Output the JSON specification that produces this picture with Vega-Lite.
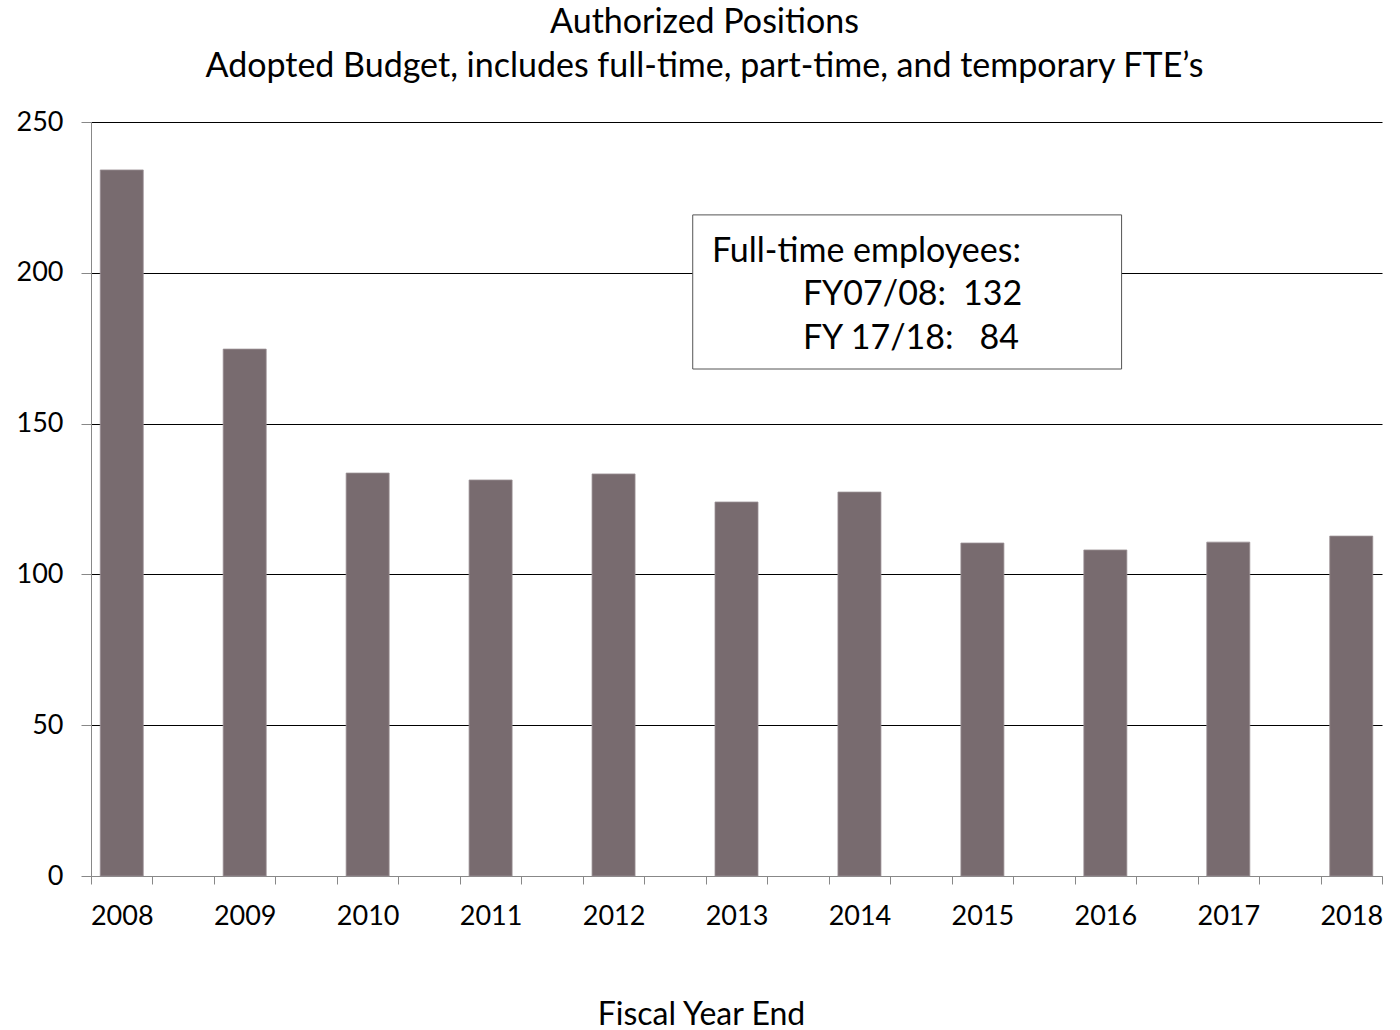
{
  "$schema": "https://vega.github.io/schema/vega-lite/v6.json",
  "width": 1291,
  "height": 754,
  "autosize": {"type": "none"},
  "padding": {"left": 91, "top": 122, "right": 18, "bottom": 154},
  "background": "white",
  "config": {
    "font": "Lato",
    "view": {"stroke": null},
    "axis": {"labelFont": "Lato", "titleFont": "Lato", "labelColor": "black", "titleColor": "black"}
  },
  "title": {
    "text": ["Authorized Positions", "Adopted Budget, includes full-time, part-time, and temporary FTE’s"],
    "anchor": "middle",
    "frame": "group",
    "fontSize": 34,
    "fontWeight": "normal",
    "color": "black",
    "lineHeight": 44,
    "offset": 24,
    "dx": -32
  },
  "layer": [
    {
      "data": {
        "values": [
          {"year": 2008, "positions": 234.1},
          {"year": 2009, "positions": 174.7},
          {"year": 2010, "positions": 133.6},
          {"year": 2011, "positions": 131.3},
          {"year": 2012, "positions": 133.3},
          {"year": 2013, "positions": 124.0},
          {"year": 2014, "positions": 127.3},
          {"year": 2015, "positions": 110.4},
          {"year": 2016, "positions": 108.1},
          {"year": 2017, "positions": 110.7},
          {"year": 2018, "positions": 112.7}
        ]
      },
      "mark": {"type": "bar", "size": 43, "color": "#786b6f", "stroke": "#9a9194", "strokeWidth": 0.8},
      "encoding": {
        "x": {
          "field": "year",
          "type": "quantitative",
          "scale": {"domain": [2007.75, 2018.25], "nice": false, "zero": false, "padding": 0},
          "axis": {
            "title": "Fiscal Year End",
            "titleFontSize": 32,
            "titleFontWeight": "normal",
            "titleX": 610,
            "titleY": 148,
            "titleBaseline": "alphabetic",
            "titleAlign": "center",
            "values": [2007.75, 2008, 2008.25, 2008.75, 2009, 2009.25, 2009.75, 2010, 2010.25, 2010.75, 2011, 2011.25, 2011.75, 2012, 2012.25, 2012.75, 2013, 2013.25, 2013.75, 2014, 2014.25, 2014.75, 2015, 2015.25, 2015.75, 2016, 2016.25, 2016.75, 2017, 2017.25, 2017.75, 2018, 2018.25],
            "labelExpr": "datum.value % 1 === 0 ? '' + datum.value : ''",
            "labelOverlap": false,
            "labelFlush": false,
            "labelBound": false,
            "labelFontSize": 27,
            "labelPadding": 19,
            "tickSize": 8,
            "tickColor": "#888888",
            "tickOpacity": {"condition": {"test": "datum.value % 1 !== 0", "value": 1}, "value": 0},
            "domainColor": "#888888",
            "grid": false
          }
        },
        "y": {
          "field": "positions",
          "type": "quantitative",
          "scale": {"domain": [0, 250], "nice": false, "padding": 0},
          "axis": {
            "title": null,
            "values": [0, 50, 100, 150, 200, 250],
            "labelFontSize": 27,
            "labelPadding": 18,
            "tickSize": 10,
            "tickColor": "#888888",
            "domainColor": "#888888",
            "grid": true,
            "gridColor": {"condition": {"test": "datum.value === 0", "value": "#888888"}, "value": "black"},
            "gridWidth": 1.2
          }
        }
      }
    },
    {
      "data": {"values": [{"label": "box"}]},
      "mark": {"type": "rect", "fill": "white", "stroke": "#555555", "strokeWidth": 1},
      "encoding": {
        "x": {"datum": 2012.644, "type": "quantitative"},
        "x2": {"datum": 2016.132},
        "y": {"datum": 219.2, "type": "quantitative"},
        "y2": {"datum": 168.1}
      }
    },
    {
      "data": {"values": [{"label": "Full-time employees:"}]},
      "mark": {"type": "text", "align": "left", "baseline": "alphabetic", "fontSize": 34, "color": "black"},
      "encoding": {
        "text": {"field": "label"},
        "x": {"datum": 2012.8, "type": "quantitative"},
        "y": {"datum": 203.6, "type": "quantitative"}
      }
    },
    {
      "data": {"values": [{"label": "FY07/08:\u2002132"}]},
      "mark": {"type": "text", "align": "left", "baseline": "alphabetic", "fontSize": 34, "color": "black"},
      "encoding": {
        "text": {"field": "label"},
        "x": {"datum": 2013.54, "type": "quantitative"},
        "y": {"datum": 189.3, "type": "quantitative"}
      }
    },
    {
      "data": {"values": [{"label": "FY 17/18:\u00a0\u00a0 84"}]},
      "mark": {"type": "text", "align": "left", "baseline": "alphabetic", "fontSize": 34, "color": "black"},
      "encoding": {
        "text": {"field": "label"},
        "x": {"datum": 2013.54, "type": "quantitative"},
        "y": {"datum": 174.7, "type": "quantitative"}
      }
    }
  ]
}
